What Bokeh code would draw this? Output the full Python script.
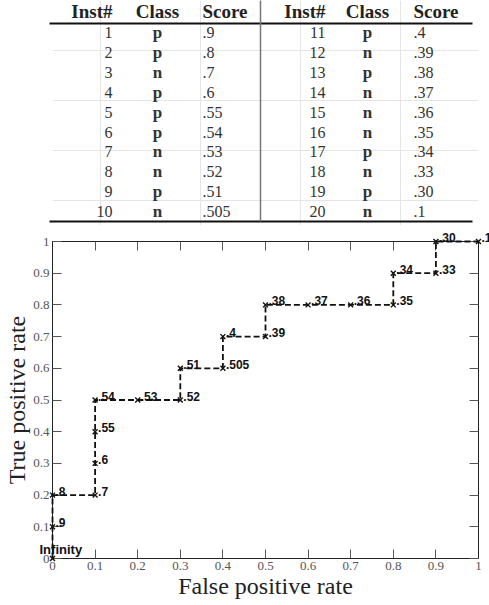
from bokeh.plotting import figure
from bokeh.layouts import column
from bokeh.models import Range1d, FixedTicker, CustomJSTickFormatter, LinearAxis
from bokeh.core.properties import value
from bokeh.embed import file_html
from bokeh.resources import INLINE

# ---------------- data ----------------
inst = [1, 2, 3, 4, 5, 6, 7, 8, 9, 10, 11, 12, 13, 14, 15, 16, 17, 18, 19, 20]
cls = ["p", "p", "n", "p", "p", "p", "n", "n", "p", "n",
       "p", "n", "p", "n", "n", "n", "p", "n", "p", "n"]
score = [".9", ".8", ".7", ".6", ".55", ".54", ".53", ".52", ".51", ".505",
         ".4", ".39", ".38", ".37", ".36", ".35", ".34", ".33", ".30", ".1"]
header = ["Inst#", "Class", "Score"]

roc_fpr = [0, 0, 0, 0.1, 0.1, 0.1, 0.1, 0.2, 0.3, 0.3, 0.4,
           0.4, 0.5, 0.5, 0.6, 0.7, 0.8, 0.8, 0.9, 0.9, 1.0]
roc_tpr = [0, 0.1, 0.2, 0.2, 0.3, 0.4, 0.5, 0.5, 0.5, 0.6, 0.6,
           0.7, 0.7, 0.8, 0.8, 0.8, 0.8, 0.9, 0.9, 1.0, 1.0]
roc_labels = ["Infinity"] + score
ticks = [0, 0.1, 0.2, 0.3, 0.4, 0.5, 0.6, 0.7, 0.8, 0.9, 1]

# ---------------- layout constants (pixels) ----------------
FL, FW, FR = 52, 426, 11      # plot frame left border, width, right border
TH = 225                      # table height
FT, FH = 16, 317              # plot top border, frame height

# ---------------- table ----------------
SERIF = value("Liberation Serif")
t = figure(frame_width=FW, frame_height=TH, x_range=Range1d(FL, FL + FW), y_range=Range1d(TH, 0),
           output_backend="svg", toolbar_location=None,
           x_axis_location=None, y_axis_location=None,
           min_border_left=FL, min_border_right=FR, min_border_top=0, min_border_bottom=0)
t.outline_line_color = None
t.background_fill_color = "white"
t.border_fill_color = "white"

col_inst = [112, 325]
col_cls = [157, 367]
col_score = [202, 413]
head_y = 11
row0, row_dy = 32, 19.9

for h in (0, 1):
    hx = [col_inst[h], col_cls[h], col_score[h]]
    for k, al in enumerate(("right", "center", "left")):
        t.text(x=[hx[k]], y=[head_y], text=[header[k]], text_align=al, text_baseline="middle",
               text_font=SERIF, text_font_size="19px", text_font_style="bold", text_color="#222",
               level="overlay")
    sl = slice(h * 10, h * 10 + 10)
    ys = [row0 + i * row_dy for i in range(10)]
    t.text(x=[col_inst[h]] * 10, y=ys, text=[str(v) for v in inst[sl]], text_align="right",
           text_baseline="middle", text_font=SERIF, text_font_size="16px", text_color="#333",
           level="overlay")
    t.text(x=[col_cls[h]] * 10, y=ys, text=cls[sl], text_align="center",
           text_baseline="middle", text_font=SERIF, text_font_size="17px", text_font_style="bold",
           text_color="#333", level="overlay")
    t.text(x=[col_score[h]] * 10, y=ys, text=score[sl], text_align="left",
           text_baseline="middle", text_font=SERIF, text_font_size="16px", text_color="#333",
           level="overlay")

rule_l, rule_r, rule_top, rule_bot, sep_x = 49, 472, 23, 221, 260
t.segment(x0=[rule_l, rule_l], y0=[rule_top, rule_bot], x1=[rule_r, rule_r], y1=[rule_top, rule_bot],
          line_color="#111", line_width=2, level="overlay")
t.segment(x0=[sep_x], y0=[0], x1=[sep_x], y1=[rule_bot], line_color="#777", line_width=1.5,
          level="overlay")

# ---------------- ROC plot ----------------
p = figure(frame_width=FW, frame_height=FH, x_range=Range1d(0, 1), y_range=Range1d(0, 1),
           output_backend="svg", toolbar_location=None,
           min_border_left=FL, min_border_top=FT, min_border_right=FR, min_border_bottom=20)
p.grid.visible = False
p.outline_line_color = "#222"
p.background_fill_color = "white"
p.border_fill_color = "white"

fmt = CustomJSTickFormatter(code="return tick.toFixed(1).replace(/\\.0$/, '');")
for ax in (p.xaxis[0], p.yaxis[0]):
    ax.ticker = FixedTicker(ticks=ticks)
    ax.formatter = fmt
    ax.major_tick_in = 9
    ax.major_tick_out = 0
    ax.minor_tick_line_color = None
    ax.axis_line_color = "#222"
    ax.major_tick_line_color = "#555"
    ax.major_label_text_font = "Liberation Serif"
    ax.major_label_text_font_size = "13px"
    ax.major_label_text_color = "#555"
    ax.major_label_standoff = 3
    ax.axis_label_text_font = "Liberation Serif"
    ax.axis_label_text_font_size = "24px"
    ax.axis_label_text_font_style = "normal"
    ax.axis_label_text_color = "#222"
    ax.axis_label_standoff = 0
p.xaxis.axis_label = "False positive rate"
p.yaxis.axis_label = "True positive rate"

blank = CustomJSTickFormatter(code="return '';")
for loc in ("right", "above"):
    ax = LinearAxis(ticker=FixedTicker(ticks=ticks), formatter=blank,
                    major_label_text_font_size="0px", major_label_standoff=0,
                    major_tick_in=9, major_tick_out=0, minor_tick_line_color=None,
                    axis_line_color="#222", major_tick_line_color="#555")
    p.add_layout(ax, loc)

p.line(roc_fpr, roc_tpr, line_color="#111", line_width=1.8, line_dash="6 3", level="overlay")
p.scatter(roc_fpr, roc_tpr, marker="x", size=7, line_color="#111", line_width=1.4, level="overlay")

LBL_FONT = value("Liberation Sans")
p.text(x=roc_fpr[1:], y=roc_tpr[1:], text=roc_labels[1:], x_offset=3, y_offset=-4,
       text_font=LBL_FONT, text_font_size="12px", text_font_style="bold",
       text_baseline="alphabetic", text_color="#111", level="overlay")
p.text(x=roc_fpr[:1], y=roc_tpr[:1], text=roc_labels[:1], x_offset=-13, y_offset=-9,
       text_font=LBL_FONT, text_font_size="13px", text_font_style="bold",
       text_baseline="alphabetic", text_color="#111", level="overlay")

layout = column(t, p)
open("out.html", "w").write(file_html(layout, INLINE))
